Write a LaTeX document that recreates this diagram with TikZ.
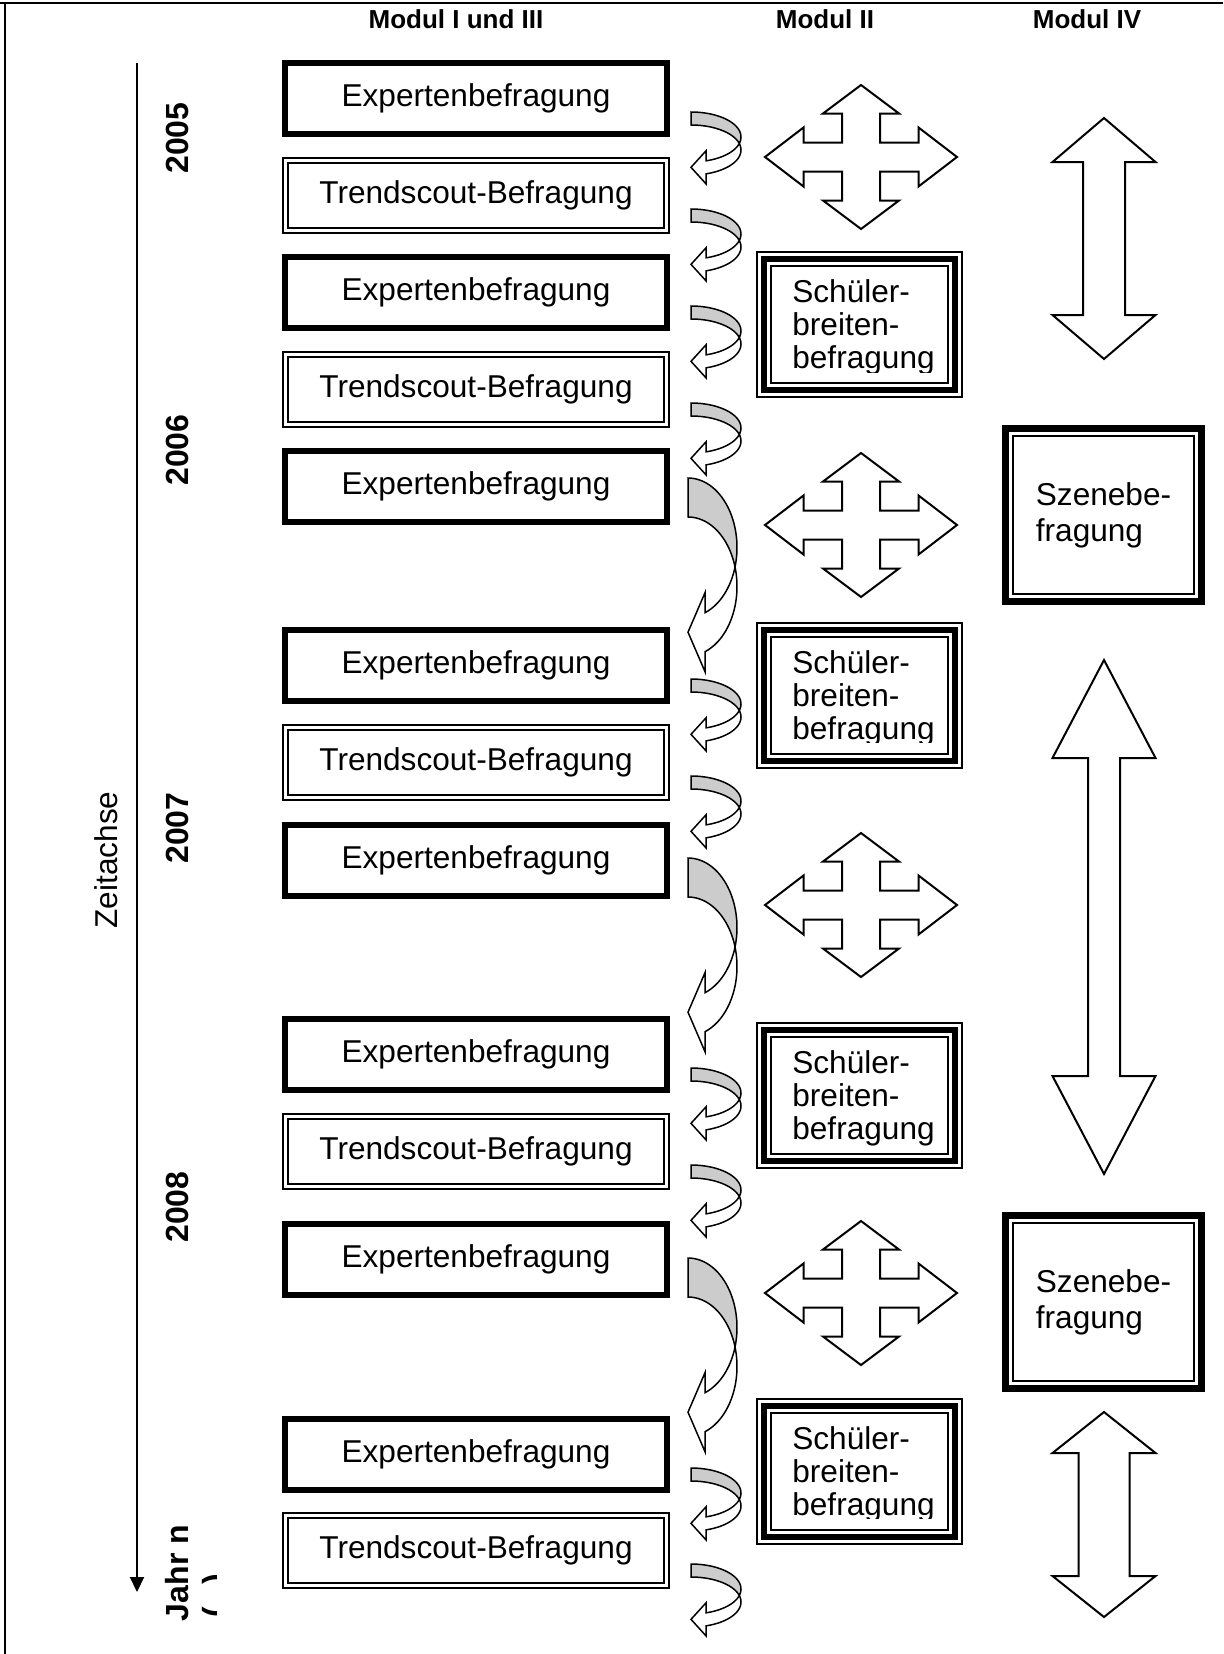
\documentclass[tikz,border=0pt]{standalone}
\usepackage{fontspec}
\setmainfont{Liberation Sans}
\usetikzlibrary{arrows.meta,calc}

\tikzset{
  every node/.style={inner sep=0pt, outer sep=0pt},
  lbl/.style={font=\fontsize{15.8}{19}\selectfont},
  hdr/.style={font=\bfseries\fontsize{13}{15}\selectfont, anchor=base},
  yr/.style={font=\bfseries\fontsize{16}{19}\selectfont, rotate=90, anchor=base},
  frame/.style={line width=1pt},
  expbox/.style={draw, line width=3pt, minimum width=191pt, minimum height=35.5pt, lbl},
  trendbox/.style={draw, double, double distance=1.5pt, line width=1pt, minimum width=190.5pt, minimum height=35pt, lbl},
  schbox/.style={draw, line width=3pt, preaction={draw, line width=8pt}, preaction={draw=white, line width=6pt}, minimum width=95.5pt, minimum height=65.5pt},
  schtext/.style={align=left, font=\fontsize{15.8}{16.5}\selectfont},
  szbox/.style={draw, line width=3.5pt, minimum width=98pt, minimum height=86.5pt, align=left, font=\fontsize{15.8}{18}\selectfont},
  thinframe/.style={line width=1pt},
  fway/.style={draw, line width=1pt, line join=miter, fill=white},
  cback/.style={draw, fill=gray!40, line width=0.75pt},
  cfront/.style={draw, fill=white, line width=0.75pt},
  timeline/.style={line width=1pt, -{Triangle[length=7.5pt,width=7pt]}}
}

% curved left arrow: tip x, top y, width, band thickness, ellipse y-radius, head length, barb extension
\newcommand{\curvarr}[7]{%
  \pgfmathsetmacro{\cvA}{asin(#4/(2*#5))}%
  \pgfmathsetmacro{\cvB}{acos(#6/#3)}%
  \pgfmathsetmacro{\cvYa}{#2+#5}%
  \pgfmathsetmacro{\cvYb}{#2+#4+#5}%
  \pgfmathsetmacro{\cvEa}{\cvYa+#5*sin(\cvB)}%
  \pgfmathsetmacro{\cvEb}{\cvYb+#5*sin(\cvB)}%
  \pgfmathsetmacro{\cvTip}{(\cvEa+\cvEb)/2}%
  \pgfmathsetmacro{\cvUb}{\cvEa-#7}%
  \pgfmathsetmacro{\cvLb}{\cvEb+#7}%
  \pgfmathsetmacro{\cvBx}{#1+#6}%
  \filldraw[cback] plot[domain=-90:\cvA, samples=30] ({#1+#3*cos(\x)},{\cvYa+#5*sin(\x)})
     -- plot[domain=-\cvA:-90, samples=30] ({#1+#3*cos(\x)},{\cvYb+#5*sin(\x)}) -- cycle;
  \filldraw[cfront] plot[domain=-\cvA:\cvB, samples=30] ({#1+#3*cos(\x)},{\cvYb+#5*sin(\x)})
     -- (\cvBx,\cvLb) -- (#1,\cvTip) -- (\cvBx,\cvUb)
     -- plot[domain=\cvB:\cvA, samples=30] ({#1+#3*cos(\x)},{\cvYa+#5*sin(\x)}) -- cycle;
}
\newcommand{\smallcurv}[1]{\curvarr{691}{#1}{50}{13}{25}{15}{10}}
\newcommand{\bigcurv}[1]{\curvarr{688}{#1}{49}{39}{69.5}{17}{20}}

% four-way arrow centred at (x,y)
\newcommand{\fourway}[2]{%
  \begin{scope}[shift={(#1,#2)}]
  \draw[fway] (0,-72) -- (38,-43.5) -- (19,-43.5) -- (19,-14.5) -- (57.5,-14.5) -- (57.5,-29.5)
    -- (96,0) -- (57.5,29.5) -- (57.5,14.5) -- (19,14.5) -- (19,43.5) -- (38,43.5) -- (0,72)
    -- (-38,43.5) -- (-19,43.5) -- (-19,14.5) -- (-57.5,14.5) -- (-57.5,29.5) -- (-96,0)
    -- (-57.5,-29.5) -- (-57.5,-14.5) -- (-19,-14.5) -- (-19,-43.5) -- (-38,-43.5) -- cycle;
  \end{scope}}

% vertical double arrow: cx, top, bottom, head length, shaft half width
\newcommand{\dblarrow}[5]{%
  \pgfmathsetmacro{\daA}{#2+#4}\pgfmathsetmacro{\daB}{#3-#4}%
  \draw[fway] (#1,#2) -- ({#1+51.5},\daA) -- ({#1+#5},\daA) -- ({#1+#5},\daB) -- ({#1+51.5},\daB)
    -- (#1,#3) -- ({#1-51.5},\daB) -- ({#1-#5},\daB) -- ({#1-#5},\daA) -- ({#1-51.5},\daA) -- cycle;}

\begin{document}
\begin{tikzpicture}[x=0.5pt, y=-0.5pt]
\useasboundingbox (0,0) rectangle (1223,1654);

% frame lines
\coordinate (ftl) at (0,3);
\coordinate (ftr) at (1223,3);
\coordinate (fl1) at (5,3);
\coordinate (fl2) at (5,1654);
\draw[frame] (ftl) -- (ftr);
\draw[frame] (fl1) -- (fl2);

% headers
\node[hdr] (h1) at (456,28) {Modul I und III};
\node[hdr] (h2) at (825,28) {Modul II};
\node[hdr] (h3) at (1087,28) {Modul IV};

% time axis
\coordinate (ta) at (137,63);
\coordinate (tb) at (137,1592);
\draw[timeline] (ta) -- (tb);
\node[lbl, rotate=90, anchor=base] (zeit) at (117,860) {Zeitachse};
\node[yr] (y5) at (188,138) {2005};
\node[yr] (y6) at (188,450) {2006};
\node[yr] (y7) at (188,828) {2007};
\node[yr] (y8) at (188,1207) {2008};
\node[yr] (yn) at (188,1573) {Jahr n};
\begin{scope}
  \clip (195,1500) rectangle (216,1654);
  \node[yr] (ynb) at (225,1596) {(\hspace{0.7em})};
\end{scope}

% Modul I und III column
\node[expbox]   (b1)  at (476,98.5)   {Expertenbefragung};
\node[trendbox] (b2)  at (476,195.5)  {Trendscout-Befragung};
\node[expbox]   (b3)  at (476,292.5)  {Expertenbefragung};
\node[trendbox] (b4)  at (476,389.5)  {Trendscout-Befragung};
\node[expbox]   (b5)  at (476,486.5)  {Expertenbefragung};
\node[expbox]   (b6)  at (476,665.5)  {Expertenbefragung};
\node[trendbox] (b7)  at (476,762.5)  {Trendscout-Befragung};
\node[expbox]   (b8)  at (476,860.5)  {Expertenbefragung};
\node[expbox]   (b9)  at (476,1054.5) {Expertenbefragung};
\node[trendbox] (b10) at (476,1151.5) {Trendscout-Befragung};
\node[expbox]   (b11) at (476,1259.5) {Expertenbefragung};
\node[expbox]   (b12) at (476,1454.5) {Expertenbefragung};
\node[trendbox] (b13) at (476,1550.5) {Trendscout-Befragung};

% curved arrows
\smallcurv{112}
\smallcurv{209}
\smallcurv{306}
\smallcurv{403}
\bigcurv{478}
\smallcurv{679}
\smallcurv{776}
\bigcurv{858}
\smallcurv{1068}
\smallcurv{1165}
\bigcurv{1258}
\smallcurv{1468}
\smallcurv{1564}

% Modul II column
\fourway{861}{157}
\fourway{861}{525}
\fourway{861}{905}
\fourway{861}{1293}

\node[schbox] (s1) at (859.5,324.5) {};
\begin{scope}
  \clip ($(s1.north west)+(10,10)$) rectangle ($(s1.south east)+(-10,-18)$);
  \node[schtext] (s1t) at ($(s1.center)+(4,3)$) {Schüler-\\breiten-\\befragung};
\end{scope}
\node[schbox] (s2) at (859.5,695) {};
\begin{scope}
  \clip ($(s2.north west)+(10,10)$) rectangle ($(s2.south east)+(-10,-18)$);
  \node[schtext] (s2t) at ($(s2.center)+(4,3)$) {Schüler-\\breiten-\\befragung};
\end{scope}
\node[schbox] (s3) at (859.5,1095.5) {};
\node[schtext] (s3t) at ($(s3.center)+(4,3)$) {Schüler-\\breiten-\\befragung};
\node[schbox] (s4) at (859.5,1471) {};
\begin{scope}
  \clip ($(s4.north west)+(10,10)$) rectangle ($(s4.south east)+(-10,-18)$);
  \node[schtext] (s4t) at ($(s4.center)+(4,3)$) {Schüler-\\breiten-\\befragung};
\end{scope}

% Modul IV column
\dblarrow{1104}{118}{359}{44}{21}
\node[szbox] (z1) at (1103.5,515) {Szenebe-\\fragung};
\draw[thinframe] ($(z1.north west)+(7.5,7.5)$) rectangle ($(z1.south east)+(-7.5,-7.5)$);
\dblarrow{1104}{660}{1174}{98}{16}
\node[szbox] (z2) at (1103.5,1302) {Szenebe-\\fragung};
\draw[thinframe] ($(z2.north west)+(7.5,7.5)$) rectangle ($(z2.south east)+(-7.5,-7.5)$);
\dblarrow{1104}{1412}{1617}{41}{25.5}

\end{tikzpicture}
\end{document}
